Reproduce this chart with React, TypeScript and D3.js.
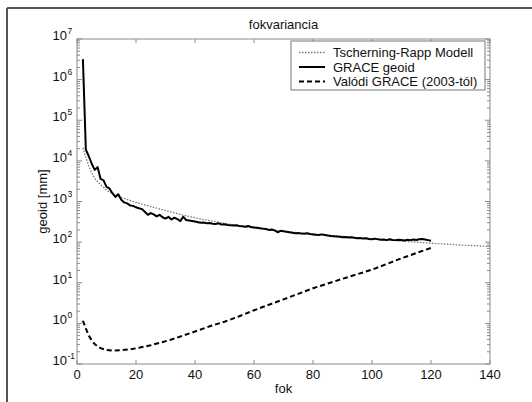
import React from "react";
import * as d3 from "d3";

const titleText = "fokvariancia";
const xLabel = "fok";
const yLabel = "geoid [mm]";
const xTicks = [0, 20, 40, 60, 80, 100, 120, 140];
const yExponents = [-1, 0, 1, 2, 3, 4, 5, 6, 7];
const legendLabels = ["Tscherning-Rapp Modell", "GRACE geoid", "Valódi GRACE (2003-tól)"];

// Tscherning-Rapp model (dotted)
const trDeg = [2, 3, 4, 5, 6, 8, 10, 12, 15, 19, 25, 31, 36, 42, 50, 57, 64, 75, 87, 100, 110, 118, 130, 140];
const trVal = [21000, 12000, 7500, 5000, 3700, 2600, 1900, 1550, 1250, 1000, 750, 575, 460, 370, 290, 240, 205, 170, 145, 120, 106, 96, 85, 78];

// GRACE geoid (solid), degrees 2..120
const graceDeg = d3.range(2, 121);
const graceVal = [
  3.2e6, 19000, 13000, 8500, 6000, 7000, 3600, 3300, 2300, 2100,
  1600, 1300, 1500, 1100, 950, 900, 800, 780, 720, 680,
  650, 560, 470, 520, 480, 430, 470, 410, 380, 420,
  360, 400, 370, 330, 420, 350, 340, 330, 320, 310,
  300, 305, 290, 295, 285, 280, 290, 270, 275, 265,
  260, 255, 260, 250, 245, 240, 250, 235, 230, 225,
  220, 215, 210, 200, 205, 195, 175, 190, 185, 180,
  175, 170, 165, 168, 162, 160, 165, 158, 155, 152,
  150, 155, 150, 145, 142, 140, 138, 135, 132, 134,
  130, 132, 128, 125, 127, 122, 124, 120, 118, 122,
  117, 114, 116, 112, 118, 113, 112, 115, 113, 110,
  114, 112, 116, 113, 118, 120, 116, 112, 108
];

// Valódi GRACE (dashed)
const realDeg = [2, 3, 4, 5, 6, 7, 8, 10, 12, 15, 18, 21, 25, 28, 32, 36, 40, 45, 50, 55, 60, 70, 80, 90, 100, 110, 120];
const realVal = [1.16, 0.75, 0.5, 0.38, 0.31, 0.27, 0.245, 0.22, 0.215, 0.22, 0.23, 0.25, 0.29, 0.33, 0.4, 0.5, 0.63, 0.85, 1.1, 1.5, 2.1, 3.9, 7.3, 12.5, 21, 40, 72];

const W = 532, H = 402;
const L = 77, R = 490, T = 39, B = 364;
const FONT = "'Liberation Sans', Arial, Helvetica, sans-serif";

export default function App() {
  const x = d3.scaleLinear().domain([0, 140]).range([L, R]);
  const y = d3.scaleLog().domain([0.1, 1e7]).range([B, T]);
  const line = d3.line<[number, number]>().x(d => x(d[0])).y(d => y(d[1]));

  const trPath = line(trDeg.map((d, i) => [d, trVal[i]]))!;
  const grPath = line(graceDeg.map((d, i) => [d, graceVal[i]]))!;
  const rePath = line(d3.zip(realDeg, realVal) as [number, number][])!;

  const minor: number[] = [];
  for (let e = -1; e < 7; e++) for (let m = 2; m <= 9; m++) minor.push(m * Math.pow(10, e));

  const axisColor = "#8a8a8a";
  const lx = 291, ly = 41, lw = 194, lh = 49;
  const rows = [52.5, 67, 81.5];

  return (
    <svg width={W} height={H} style={{ position: "absolute", left: 0, top: 0, background: "#fff" }}>
      <rect x={0} y={0} width={W} height={H} fill="#fff" />
      {/* outer frame */}
      <line x1={7} y1={8} x2={W} y2={8} stroke="#555" strokeWidth={2} />
      <line x1={7} y1={8} x2={7} y2={H} stroke="#555" strokeWidth={2} />

      {/* plot box */}
      <rect x={L} y={T} width={R - L} height={B - T} fill="none" stroke={axisColor} strokeWidth={1} />

      {/* x ticks */}
      {xTicks.map(t => (
        <g key={"xt" + t}>
          <line x1={x(t)} x2={x(t)} y1={B} y2={B - 4} stroke={axisColor} />
          <line x1={x(t)} x2={x(t)} y1={T} y2={T + 4} stroke={axisColor} />
          <text x={x(t)} y={379} textAnchor="middle" fontFamily={FONT} fontSize={13} fill="#111">{t}</text>
        </g>
      ))}

      {/* y ticks */}
      {yExponents.map(e => {
        const yy = y(Math.pow(10, e));
        return (
          <g key={"yt" + e}>
            <line x1={L} x2={L + 5} y1={yy} y2={yy} stroke={axisColor} />
            <line x1={R} x2={R - 5} y1={yy} y2={yy} stroke={axisColor} />
            <text x={67} y={yy + 1} textAnchor="end" fontFamily={FONT} fontSize={13} fill="#111">10</text>
            <text x={67.5} y={yy - 5} textAnchor="start" fontFamily={FONT} fontSize={8.5} fill="#111">{e}</text>
          </g>
        );
      })}
      {minor.map((v, i) => (
        <g key={"mn" + i}>
          <line x1={L} x2={L + 3} y1={y(v)} y2={y(v)} stroke={axisColor} />
          <line x1={R} x2={R - 3} y1={y(v)} y2={y(v)} stroke={axisColor} />
        </g>
      ))}

      {/* series */}
      <path d={trPath} fill="none" stroke="#777" strokeWidth={1.3} strokeDasharray="1.5,1.5" />
      <path d={grPath} fill="none" stroke="#000" strokeWidth={2} strokeLinejoin="round" />
      <path d={rePath} fill="none" stroke="#000" strokeWidth={2} strokeDasharray="5,3" />

      {/* legend */}
      <rect x={lx} y={ly} width={lw} height={lh} fill="#fff" stroke="#777" strokeWidth={1} />
      <line x1={299} x2={325} y1={rows[0]} y2={rows[0]} stroke="#777" strokeWidth={1.3} strokeDasharray="1.5,1.5" />
      <line x1={299} x2={325} y1={rows[1]} y2={rows[1]} stroke="#000" strokeWidth={2} />
      <line x1={299} x2={325} y1={rows[2]} y2={rows[2]} stroke="#000" strokeWidth={2} strokeDasharray="5,3" />
      {legendLabels.map((s, i) => (
        <text key={s} x={333} y={rows[i] + 4.5} fontFamily={FONT} fontSize={13} fill="#111">{s}</text>
      ))}

      {/* labels */}
      <text x={(L + R) / 2} y={29} textAnchor="middle" fontFamily={FONT} fontSize={13} fill="#111">{titleText}</text>
      <text x={(L + R) / 2} y={393} textAnchor="middle" fontFamily={FONT} fontSize={13} fill="#111">{xLabel}</text>
      <text transform={`translate(47,${(T + B) / 2}) rotate(-90)`} textAnchor="middle" fontFamily={FONT} fontSize={13} fill="#111">{yLabel}</text>
    </svg>
  );
}
